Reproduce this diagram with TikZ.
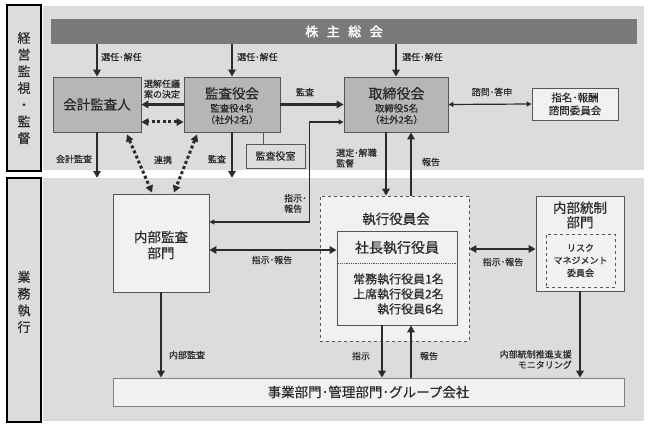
\documentclass[tikz,border=0pt]{standalone}
\usepackage{fontspec}
\setmainfont{Noto Sans CJK JP}[FakeBold=0.5]
\newfontfamily\jpbold{Noto Sans CJK JP}[FakeBold=2]
\usetikzlibrary{arrows.meta,calc}
\definecolor{panel}{HTML}{DCDCDC}
\definecolor{barc}{HTML}{7A7A7A}
\definecolor{midbox}{HTML}{B6B6B6}
\definecolor{lightbox}{HTML}{F1F1F1}
\definecolor{linec}{HTML}{2E2A25}
\definecolor{bordc}{HTML}{555555}
\definecolor{txt}{HTML}{2A2A2A}
\newcommand\hd{･}
\tikzset{
  fs/.style args={#1/#2}{font=\fontsize{#1}{#2}\selectfont},
  panelbox/.style={fill=panel,draw=none,inner sep=0pt},
  sidebox/.style={fill=panel,draw=black,line width=2.4pt,inner sep=0pt},
  midbx/.style={fill=midbox,draw=bordc,line width=0.9pt,inner sep=0pt},
  lightbx/.style={fill=lightbox,draw=bordc,line width=0.9pt,inner sep=0pt},
  panbx/.style={fill=panel,draw=bordc,line width=0.9pt,inner sep=0pt},
  txtn/.style={text=txt,inner sep=0pt},
  lbl/.style={text=txt,inner sep=0pt,fs=9/10.5},
  thickarr/.style={draw=linec,line width=2.8pt,-{Triangle[length=7pt,width=7.5pt]}},
  thickdbl/.style={draw=linec,line width=2.8pt,{Triangle[length=7pt,width=7.5pt]}-{Triangle[length=7pt,width=7.5pt]}},
  thinarr/.style={draw=linec,line width=1.2pt,-{Triangle[length=5pt,width=5pt]}},
  thindbl/.style={draw=linec,line width=1.2pt,{Triangle[length=5pt,width=5pt]}-{Triangle[length=5pt,width=5pt]}},
  dotdbl/.style={draw=linec,line width=3pt,dash pattern=on 3pt off 2.5pt,{Triangle[length=7pt,width=7.5pt]}-{Triangle[length=7pt,width=7.5pt]}},
}
\begin{document}
\begin{tikzpicture}[x=1pt,y=-1pt]
\useasboundingbox (0,0) rectangle (648,427);
\fill[white] (0,0) rectangle (648,427);
% panels
\node[panelbox,minimum width=601pt,minimum height=164pt] (monpanel) at (343.5,88) {};
\node[panelbox,minimum width=601pt,minimum height=243pt] (execpanel) at (343.5,299.5) {};
% side labels
\node[sidebox,minimum width=34pt,minimum height=166pt] (side1) at (24,88) {};
\node[txtn,fs=13/16.7,align=center] (side1t) at (side1.center) {経\\営\\監\\視\\・\\監\\督};
\node[sidebox,minimum width=34pt,minimum height=244pt] (side2) at (24,300) {};
\node[txtn,fs=13/16.7,align=center] (side2t) at (24,302) {業\\務\\執\\行};
% shareholders bar
\node[fill=barc,draw=none,minimum width=586pt,minimum height=25pt,inner sep=0pt] (sh) at (344,31.5) {};
\node[text=white,inner sep=0pt,fs=13/15] (sht) at (sh.center) {\jpbold 株\hspace{0.65em}主\hspace{0.65em}総\hspace{0.65em}会};
% top boxes
\node[midbx,minimum width=88pt,minimum height=55pt] (kai) at (97,104.5) {};
\node[txtn,fs=13.5/16] at (kai.center) {会計監査人};
\node[midbx,minimum width=96pt,minimum height=55pt] (kansa) at (232,104.5) {};
\node[txtn,fs=13.5/15] (kansat) at (232,93.5) {監査役会};
\node[txtn,fs=9.5/11.5,align=center] (kansas) at (232,114) {監査役4名\\（社外2名）};
\node[midbx,minimum width=104pt,minimum height=55pt] (tori) at (396,104.5) {};
\node[txtn,fs=14/15] (torit) at (396.5,93.5) {取締役会};
\node[txtn,fs=9.5/11.5,align=center] (toris) at (396.5,114) {取締役5名\\（社外2名）};
\node[lightbx,minimum width=86pt,minimum height=32pt] (shimei) at (575,104) {};
\node[txtn,fs=10.5/13,align=center] at (shimei.center) {指名\hd 報酬\\諮問委員会};
\node[panbx,minimum width=59pt,minimum height=24pt] (shitsu) at (275.5,156) {};
\node[txtn,fs=10/12] at (shitsu.center) {監査役室};
% bottom boxes
\node[lightbx,minimum width=96pt,minimum height=98pt] (naibu) at (161,243) {};
\node[txtn,fs=13.5/16,align=center] at (161,245) {内部監査\\部門};
\node[fill=lightbox,draw=bordc,line width=0.8pt,dashed,minimum width=149pt,minimum height=145pt,inner sep=0pt] (yakuin) at (394.5,268.5) {};
\node[txtn,fs=13.5/15] (yakuint) at (396,219) {執行役員会};
\node[lightbx,minimum width=120pt,minimum height=94pt] (shacho) at (397,278) {};
\draw[bordc,line width=0.8pt,densely dotted] (shacho.west |- 0,263) -- (shacho.east |- 0,263);
\node[txtn,fs=14/16] (shachot) at (397,247.5) {社長執行役員};
\node[txtn,fs=12/15,align=right,anchor=east] (shachos) at (444,294) {常務執行役員1名\\上席執行役員2名\\執行役員6名};
\node[lightbx,minimum width=88pt,minimum height=95pt] (tousei) at (580,243.5) {};
\node[txtn,fs=13.5/14.5,align=center] at (580,215) {内部統制\\部門};
\node[draw=bordc,line width=0.8pt,dashed,minimum width=69pt,minimum height=53pt,inner sep=0pt] (risk) at (580.5,260.5) {};
\node[txtn,fs=9/12.5,align=center] at (risk.center) {リスク\\マネジメント\\委員会};
\node[fill=lightbox,draw=gray,line width=0.8pt,minimum width=511pt,minimum height=28pt,inner sep=0pt] (jigyo) at (368.5,392) {};
\node[txtn,fs=13.5/15] at (jigyo.center) {事業部門\hd 管理部門\hd グループ会社};
% arrows from shareholders
\draw[thickarr] (kai.north |- sh.south) -- (kai.north);
\draw[thickarr] (kansa.north |- sh.south) -- (kansa.north);
\draw[thickarr] (tori.north |- sh.south) -- (tori.north);
\node[lbl,anchor=west] at (101,57) {選任\hd 解任};
\node[lbl,anchor=west] at (237,57) {選任\hd 解任};
\node[lbl,anchor=west] at (402,57) {選任\hd 解任};
% kansa -> kai
\draw[thickarr] (kansa.west) -- (kai.east);
\node[lbl,align=center] at (162,89) {選解任議\\案の決定};
\coordinate (kw) at ($(kansa.west)+(0,17.5)$);
\draw[dotdbl] (kw) -- (kai.east |- kw);
% kansa -> tori
\draw[thickarr] (kansa.east) -- (tori.west);
\node[lbl] at (305,92) {監査};
% kansa -- shitsu
\coordinate (ks) at ($(kansa.south)+(31,0)$);
\draw[bordc,line width=0.9pt] (ks) -- (ks |- shitsu.north);
% tori <-> shimei
\draw[thindbl] (tori.east) -- (shimei.west);
\node[lbl] at (492,92) {諮問\hd 答申};
% down to exec panel
\draw[thickarr] (kai.south) -- (kai.south |- execpanel.north);
\node[lbl] at (74,159) {会計監査};
\draw[thickarr] (kansa.south) -- (kansa.south |- execpanel.north);
\node[lbl] at (217,159) {監査};
% dotted diagonals
\draw[dotdbl] ($(kai.south)+(30,2)$) -- ($(naibu.north)+(-9,-1)$);
\draw[dotdbl] ($(kansa.south)+(-35,2)$) -- ($(naibu.north)+(13,-1)$);
\node[lbl] at (163,160) {連携};
% thin elbow naibu <-> tori
\coordinate (tw) at ($(tori.west)+(0,17.5)$);
\coordinate (nw) at ($(naibu.east)+(0,-21)$);
\draw[thindbl] (tw) -- ++(-34,0) |- (nw);
\node[lbl,align=left,anchor=west] at (284,203.5) {指示\hd\\報告};
% tori <-> yakuin
\coordinate (t1) at ($(tori.south)+(-10,0)$);
\coordinate (t2) at ($(tori.south)+(15,0)$);
\draw[thickarr] (t1) -- (t1 |- yakuin.north);
\draw[thickarr] (t2 |- yakuin.north) -- (t2);
\node[lbl,align=left,anchor=west] at (336,158) {選定\hd 解職\\監督};
\node[lbl] at (431,162) {報告};
% naibu <-> shacho
\draw[thickdbl] (naibu.east |- 0,250) -- (shacho.west |- 0,250);
\node[lbl] at (272,260) {指示\hd 報告};
% yakuin <-> tousei
\draw[thickdbl] (yakuin.east |- 0,249) -- (tousei.west |- 0,249);
\node[lbl] at (503,262) {指示\hd 報告};
% to jigyo
\draw[thickarr] (naibu.south) -- (naibu.south |- jigyo.north);
\node[lbl] at (187,355) {内部監査};
\coordinate (s1) at ($(shacho.south)+(-15,0)$);
\coordinate (s2) at ($(shacho.south)+(14,0)$);
\draw[thickarr] (s1) -- (s1 |- jigyo.north);
\draw[thickarr] (s2 |- jigyo.north) -- (s2);
\node[lbl] at (361,356) {指示};
\node[lbl] at (429,356) {報告};
\draw[thickarr] (tousei.south) -- (tousei.south |- jigyo.north);
\node[lbl,align=right,anchor=east] at (572,359.5) {内部統制推進支援\\モニタリング};
\end{tikzpicture}
\end{document}
